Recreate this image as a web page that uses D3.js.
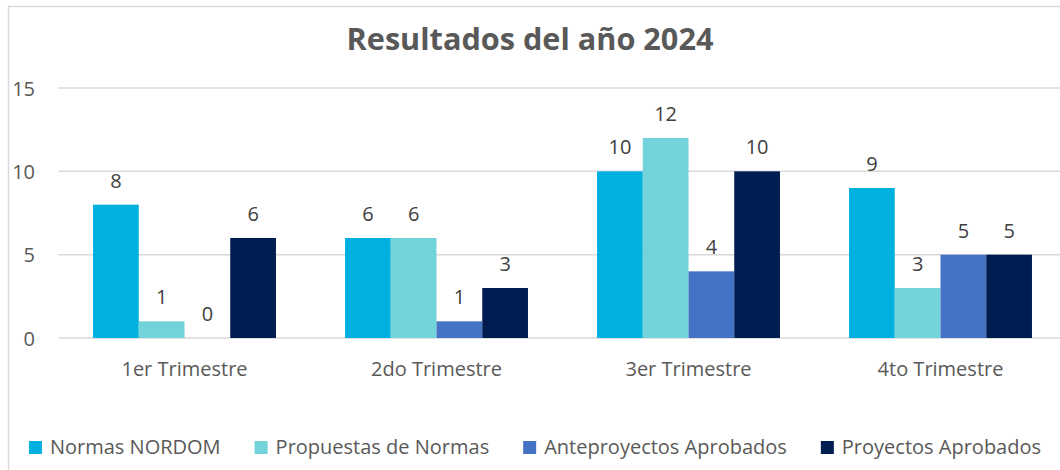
<!DOCTYPE html>
<html>
<head>
<meta charset="utf-8">
<script src="https://cdn.jsdelivr.net/npm/d3@7"></script>
<style>
  body { margin: 0; background: #fff; }
  svg { display: block; font-family: "Open Sans", sans-serif; }
</style>
</head>
<body>
<div id="chart"></div>
<script>
// D A T A
var categories = ['1er Trimestre', '2do Trimestre', '3er Trimestre', '4to Trimestre'];
var seriesNames = ['Normas NORDOM', 'Propuestas de Normas', 'Anteproyectos Aprobados', 'Proyectos Aprobados'];
var normasNordom = [8, 6, 10, 9];
var propuestasNormas = [1, 6, 12, 3];
var anteproyectos = [0, 1, 4, 5];
var proyectos = [6, 3, 10, 5];
var yTicks = [0, 5, 10, 15];

var seriesValues = [normasNordom, propuestasNormas, anteproyectos, proyectos];
var colors = ['#00B0DE', '#72D3DB', '#4472C4', '#001D52'];

const width = 1060;
const height = 470;

var svg = d3.select('#chart').append('svg')
    .attr('width', width)
    .attr('height', height);

// chart border
svg.append('rect')
    .attr('x', 8.5).attr('y', 6.5)
    .attr('width', 1100).attr('height', 600)
    .attr('fill', 'none')
    .attr('stroke', '#D9D9D9')
    .attr('stroke-width', 1.5);

// S C A L E S
var x = d3.scaleBand()
    .domain(categories)
    .range([58.5, 1066.5])
    .paddingInner(0.274)
    .paddingOuter(0.137);

var xInner = d3.scaleBand()
    .domain(seriesNames)
    .range([0, x.bandwidth()]);

var y = d3.scaleLinear()
    .domain([0, 15])
    .range([338, 88]);

// G R I D
svg.append('g').selectAll('line').data(yTicks).enter().append('line')
    .attr('x1', 58.5).attr('x2', 1066.5)
    .attr('y1', function (d) { return y(d); })
    .attr('y2', function (d) { return y(d); })
    .attr('stroke', '#D9D9D9')
    .attr('stroke-width', 1.5);

// Y  L A B E L S
var yAxis = d3.axisLeft(y).tickValues(yTicks).tickSize(0).tickPadding(0);
var yG = svg.append('g').attr('transform', 'translate(35,0)').call(yAxis);
yG.select('.domain').remove();
yG.selectAll('text')
    .attr('font-family', '"Open Sans", sans-serif')
    .attr('font-size', 20)
    .attr('fill', '#595959')
    .attr('dy', '0.35em');

// X  L A B E L S
var xAxis = d3.axisBottom(x).tickSize(0).tickPadding(0);
var xG = svg.append('g').attr('transform', 'translate(0,338)').call(xAxis);
xG.select('.domain').remove();
xG.selectAll('text')
    .attr('font-family', '"Open Sans", sans-serif')
    .attr('font-size', 20)
    .attr('fill', '#595959')
    .attr('y', 38)
    .attr('dy', 0);

// B A R S
var groups = svg.append('g').selectAll('g').data(categories).enter().append('g')
    .attr('transform', function (d) { return 'translate(' + x(d) + ',0)'; });

groups.selectAll('rect')
    .data(function (d, ci) {
        return seriesNames.map(function (s, si) {
            return { s: s, si: si, v: seriesValues[si][ci] };
        });
    })
    .enter().append('rect')
    .attr('x', function (d) { return xInner(d.s); })
    .attr('width', xInner.bandwidth())
    .attr('y', function (d) { return y(d.v); })
    .attr('height', function (d) { return y(0) - y(d.v); })
    .attr('fill', function (d) { return colors[d.si]; });

groups.selectAll('text')
    .data(function (d, ci) {
        return seriesNames.map(function (s, si) {
            return { s: s, si: si, v: seriesValues[si][ci] };
        });
    })
    .enter().append('text')
    .attr('x', function (d) { return xInner(d.s) + xInner.bandwidth() / 2; })
    .attr('y', function (d) { return y(d.v) - 17; })
    .attr('text-anchor', 'middle')
    .attr('font-size', 20)
    .attr('fill', '#404040')
    .text(function (d) { return d.v; });

// T I T L E
var title = svg.append('text')
    .attr('x', 530).attr('y', 50)
    .attr('text-anchor', 'middle')
    .attr('font-size', 32)
    .attr('font-weight', 'bold')
    .attr('fill', '#595959')
    .text('Resultados del año 2024');
var tw = title.node().getComputedTextLength();
title.attr('font-size', 32 * 367 / tw);

// L E G E N D
var legend = svg.append('g');
var items = legend.selectAll('g').data(seriesNames).enter().append('g');
items.append('rect')
    .attr('width', 13).attr('height', 13)
    .attr('y', 441)
    .attr('fill', function (d, i) { return colors[i]; });
items.append('text')
    .attr('x', 21).attr('y', 454)
    .attr('font-size', 20)
    .attr('fill', '#595959')
    .text(function (d) { return d; });

var widths = [];
items.each(function () {
    widths.push(d3.select(this).select('text').node().getComputedTextLength() + 21);
});
var gap = 34;
var total = d3.sum(widths) + gap * (widths.length - 1);
var lx = 535 - total / 2;
items.attr('transform', function (d, i) {
    var pos = lx;
    lx += widths[i] + gap;
    return 'translate(' + pos + ',0)';
});
</script>
</body>
</html>
